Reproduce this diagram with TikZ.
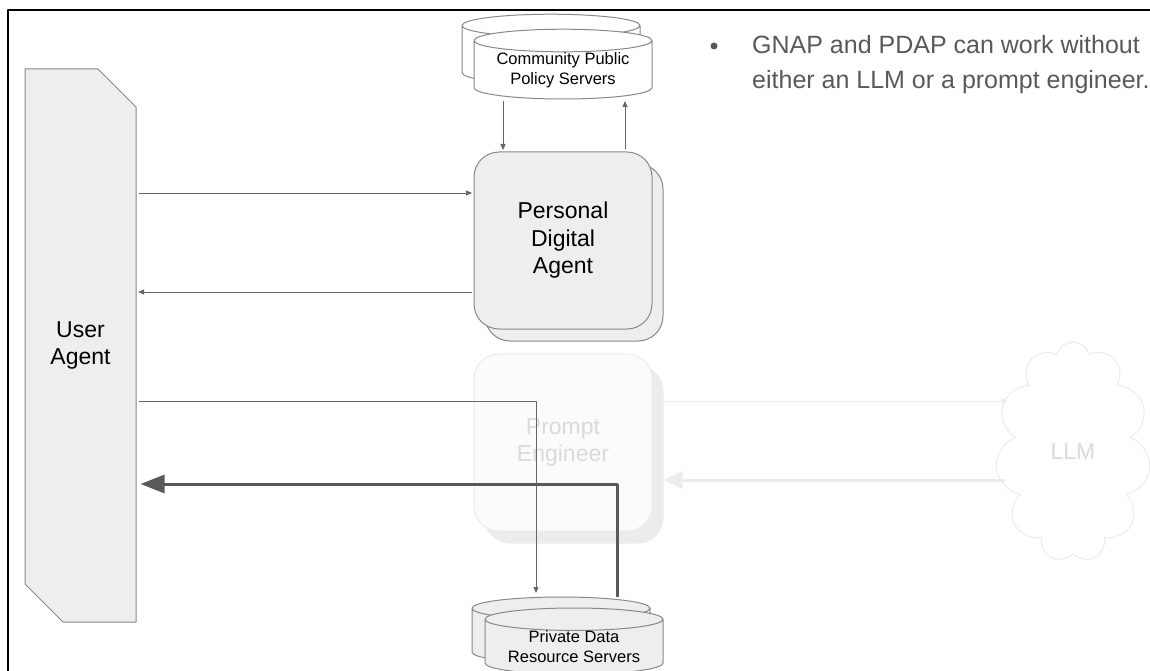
\documentclass[tikz,border=0pt]{standalone}
\usepackage{fontspec}
\setmainfont{Liberation Sans}
\usetikzlibrary{shapes.geometric, shapes.misc, shapes.symbols, shadows, arrows.meta, positioning, calc}
\definecolor{cEdge}{RGB}{136,136,136}
\definecolor{cLine}{RGB}{102,102,102}
\definecolor{cDark}{RGB}{89,89,89}
\definecolor{cFill}{RGB}{238,238,238}
\definecolor{cFaint}{RGB}{236,236,236}
\definecolor{cFaintFill}{RGB}{251,251,251}
\definecolor{cFaintText}{RGB}{218,218,218}
\tikzset{
	frame/.style    ={draw=black, line width=1.6pt},
	agentbox/.style ={chamfered rectangle, chamfered rectangle corners={north east, south west}, chamfered rectangle sep=19pt, draw=cEdge, fill=cFill, line width=1pt, minimum width=111pt, minimum height=553pt, inner sep=0pt, align=center, font=\fontsize{23}{27.5}\selectfont},
	roundbox/.style ={rectangle, rounded corners=25pt, draw=cEdge, fill=cFill, line width=1pt, minimum width=178pt, minimum height=177pt, align=center, font=\fontsize{23}{27.5}\selectfont},
	store/.style    ={cylinder, shape border rotate=90, aspect=0.17, draw=cEdge, fill=white, line width=1pt, minimum width=178pt, minimum height=67pt, inner sep=0pt, align=center, font=\fontsize{16.5}{20}\selectfont},
	fadebox/.style  ={roundbox, draw=cFaint, fill=cFaintFill, text=cFaintText},
	fadecloud/.style={cloud, cloud puffs=11, cloud ignores aspect, draw=cFaint, fill=white, line width=1pt, minimum width=155pt, minimum height=220pt, text=cFaintText, font=\fontsize{23}{27.5}\selectfont},
	notetext/.style ={text=cDark, inner sep=0pt, align=left, font=\fontsize{25}{35}\selectfont},
	bulletdot/.style={circle, fill=cDark, minimum size=7pt, inner sep=0pt},
	% connectors
	thinarr/.style  ={-{Triangle[length=6pt, width=5pt]}, cLine, line width=0.9pt, shorten >=1.5pt, shorten <=2pt},
	thickarr/.style ={-{Triangle[length=24pt, width=18pt]}, cDark, line width=3pt, shorten >=4pt},
	fadearr/.style  ={-{Triangle[length=6pt, width=5pt]}, cFaint, line width=0.9pt},
	fadethick/.style={-{Triangle[length=19pt, width=17pt]}, cFaint, line width=3pt},
}
\begin{document}
\begin{tikzpicture}[x=1pt, y=-1pt, line join=round]
	\useasboundingbox (0,0) rectangle (1150,671);
	\clip (0,0) rectangle (1150,671);
	\draw[frame] (8,10) rectangle (1170,700);
	% agents and servers
	\node[agentbox] (ua) at (80.5,345.5) {User\\ Agent};
	\node[roundbox, copy shadow={shadow xshift=11pt, shadow yshift=-12pt, draw=cEdge, fill=cFill}] (pda) at (563,240.5) {Personal\\ Digital\\ Agent};
	\node[store, above=52pt of pda, copy shadow={shadow xshift=-12pt, shadow yshift=15pt, draw=cEdge, fill=white}] (cpps) {Community Public\\ Policy Servers};
	\node[fadebox, below=24pt of pda, copy shadow={shadow xshift=11pt, shadow yshift=-12pt, draw=cFaint, fill=cFaint}] (pe) {Prompt\\ Engineer};
	\node[store, fill=cFill, minimum height=62pt, copy shadow={shadow xshift=-13pt, shadow yshift=11pt, draw=cEdge, fill=cFill}] (pdrs) at (574,647) {Private Data\\ Resource Servers};
	\node[fadecloud] (llm) at (1073,452) {LLM};
	% the note
	\node[notetext, anchor=north west] (note) at (752,35) {GNAP and PDAP can work without\\ either an LLM or a prompt engineer.};
	\node[bulletdot] (dot) at (714,46) {};
	% levels of the horizontal connectors
	\coordinate (lvA) at (0,193);
	\coordinate (lvB) at (0,292);
	\coordinate (lvC) at (0,401);
	\coordinate (lvD) at (0,484);
	\coordinate (lvE) at (0,480);
	\draw[thinarr] (ua.east |- lvA) -- (pda.west |- lvA);
	\draw[thinarr] (pda.west |- lvB) -- (ua.east |- lvB);
	\draw[thinarr] ([xshift=-60pt]cpps.south) -- ([xshift=-60pt]cpps.south |- pda.north);
	\draw[thinarr] ([xshift=62pt]pda.north) -- ([xshift=62pt]pda.north |- cpps.south);
	\draw[thinarr] (ua.east |- lvC) -| ([xshift=-38pt,yshift=13pt]pdrs.north);
	\draw[thickarr] ([xshift=43pt,yshift=11pt]pdrs.north) |- (ua.east |- lvD);
	\draw[fadearr, shorten >=-9pt] ([xshift=11pt]pe.east |- lvC) -- (llm.west |- lvC);
	\draw[fadethick, shorten <=-6pt] (llm.west |- lvE) -- ([xshift=11pt]pe.east |- lvE);
\end{tikzpicture}
\end{document}
